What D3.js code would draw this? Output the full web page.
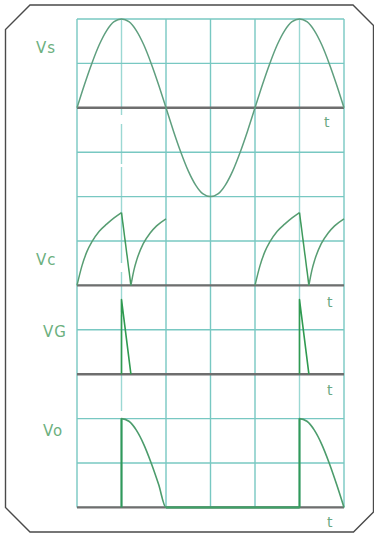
<!DOCTYPE html>
<html>
<head>
<meta charset="utf-8">
<script src="https://cdn.jsdelivr.net/npm/d3@7"></script>
<style>
  html, body { margin: 0; padding: 0; background: #fff; }
  svg { display: block; }
  .lbl { font-family: "DejaVu Sans", sans-serif; fill: #6cb07e; }
</style>
</head>
<body>
<svg id="chart" width="374" height="533"></svg>
<script>
// Phase angle (degrees) of each sample
const vsAngle = [0,15,30,45,60,75,90,105,120,135,150,165,180,195,210,225,240,255,270,
                 285,300,315,330,345,360,375,390,405,420,435,450,465,480,495,510,525,540];
// Source voltage Vs (per unit of peak)
const vsValue = [0,0.26,0.5,0.71,0.87,0.97,1,0.97,0.87,0.71,0.5,0.26,0,-0.26,-0.5,-0.71,-0.87,-0.97,-1,
                 -0.97,-0.87,-0.71,-0.5,-0.26,0,0.26,0.5,0.71,0.87,0.97,1,0.97,0.87,0.71,0.5,0.26,0];

// Capacitor voltage Vc: charge, discharge through the gate, recharge
const vcAngle1 = [0,10,20,30,45,60,75,90,109,115,121,134,148,161,180];
const vcValue1 = [0,0.22,0.38,0.49,0.61,0.69,0.76,0.82,0,0.17,0.29,0.47,0.59,0.67,0.75];
const vcAngle2 = [360,370,380,390,405,420,435,450,469,475,481,494,508,521,540];
const vcValue2 = [0,0.22,0.38,0.49,0.61,0.69,0.76,0.82,0,0.17,0.29,0.47,0.59,0.67,0.75];

// Gate pulses VG
const vgAngle1 = [90,90,109];
const vgValue1 = [0,0.84,0];
const vgAngle2 = [450,450,469];
const vgValue2 = [0,0.84,0];

// Output voltage Vo
const voAngle = [90,90,105,120,135,150,165,180,450,450,465,480,495,510,525,540];
const voValue = [0,1,0.97,0.87,0.71,0.5,0.26,0,0,1,0.97,0.87,0.71,0.5,0.26,0];

// Labels
const panelNames = ["Vs","Vc","VG","Vo"];
const axisName = "t";

const svg = d3.select("#chart");

// Frame with cut corners
const frame = [[30,5],[353,5],[373.5,25.5],[373.5,512],[353.5,532],[30,532],[5.5,507.5],[5.5,29.5]];
svg.append("path")
  .attr("d", d3.line()(frame) + "Z")
  .attr("fill", "none")
  .attr("stroke", "#4a4a4a")
  .attr("stroke-width", 1.4);

// Scales
const x = d3.scaleLinear().domain([0, 540]).range([77, 344]);
const row = d3.scaleLinear().domain([0, 11]).range([19, 507.4]);
const unit = row(2) - row(0);           // one per-unit = two grid cells

// Grid
const g = svg.append("g");
const colTicks = d3.range(0, 541, 90);
g.selectAll("line.v").data(colTicks).join("line")
  .attr("x1", d => x(d)).attr("x2", d => x(d))
  .attr("y1", row(0)).attr("y2", row(11))
  .attr("stroke", d => (d === 90 || d === 450) ? "#9bd8d3" : "#78c8c2")
  .attr("stroke-width", 1.4)
  .attr("stroke-dasharray", d => d === 90 ? "96,9,40,3" : null);
g.selectAll("line.h").data(d3.range(0, 12)).join("line")
  .attr("x1", x(0)).attr("x2", x(540))
  .attr("y1", d => row(d)).attr("y2", d => row(d))
  .attr("stroke", "#78c8c2")
  .attr("stroke-width", 1.4);

// Panel baselines (grid row of each zero line)
const baseRows = [2, 6, 8, 11];
svg.selectAll("line.axis").data(baseRows).join("line")
  .attr("x1", x(0)).attr("x2", x(540))
  .attr("y1", d => row(d)).attr("y2", d => row(d))
  .attr("stroke", "#6e6e6e")
  .attr("stroke-width", 2.4);

function yFor(r) {
  return d3.scaleLinear().domain([0, 1]).range([row(r), row(r) - unit]);
}

function draw(angles, values, r, curve, color, width) {
  const y = yFor(r);
  const pts = angles.map((a, i) => [a, values[i]]);
  svg.append("path")
    .attr("d", d3.line().x(d => x(d[0])).y(d => y(d[1])).curve(curve)(pts))
    .attr("fill", "none")
    .attr("stroke", color)
    .attr("stroke-width", width)
    .attr("stroke-linejoin", "round");
}

// Vs
draw(vsAngle, vsValue, 2, d3.curveMonotoneX, "#5f9f7f", 1.5);

// Vc: charging arcs drawn smooth, discharge drops drawn straight
function drawCharging(angles, values, r) {
  const y = yFor(r);
  const parts = [];
  let run = [[angles[0], values[0]]];
  for (let i = 1; i < angles.length; i++) {
    if (values[i] === 0 && values[i - 1] > 0) {
      parts.push({pts: run, straight: false});
      parts.push({pts: [run[run.length - 1], [angles[i], 0]], straight: true});
      run = [[angles[i], 0]];
    } else {
      run.push([angles[i], values[i]]);
    }
  }
  parts.push({pts: run, straight: false});
  parts.forEach(s => {
    svg.append("path")
      .attr("d", d3.line().x(d => x(d[0])).y(d => y(d[1]))
        .curve(s.straight ? d3.curveLinear : d3.curveMonotoneX)(s.pts))
      .attr("fill", "none")
      .attr("stroke", s.straight ? "#3f9a5c" : "#579d72")
      .attr("stroke-width", 1.5);
  });
}
drawCharging(vcAngle1, vcValue1, 6);
drawCharging(vcAngle2, vcValue2, 6);

// VG
draw(vgAngle1, vgValue1, 8, d3.curveLinear, "#2f9a50", 1.6);
draw(vgAngle2, vgValue2, 8, d3.curveLinear, "#2f9a50", 1.6);

// Vo
draw(voAngle, voValue, 11, d3.curveMonotoneX, "#4c9c6c", 1.6);
// conduction steps and the zero stretch
const yo = yFor(11);
[[90, 1], [450, 1]].forEach(([a, v]) => {
  svg.append("line")
    .attr("x1", x(a)).attr("x2", x(a))
    .attr("y1", yo(0)).attr("y2", yo(v))
    .attr("stroke", "#2f9a5a").attr("stroke-width", 1.8);
});
svg.append("line")
  .attr("x1", x(180)).attr("x2", x(450))
  .attr("y1", yo(0)).attr("y2", yo(0))
  .attr("stroke", "#3fa066").attr("stroke-width", 2);

// Panel names
const namePos = [[36, 53], [36, 265], [43, 337], [43, 436]];
svg.selectAll("text.name").data(panelNames).join("text")
  .attr("class", "lbl")
  .attr("x", (d, i) => namePos[i][0])
  .attr("y", (d, i) => namePos[i][1])
  .attr("font-size", 15)
  .attr("letter-spacing", 1)
  .text(d => d);

// Time axis labels
const tPos = [[324, 127], [327, 307], [327, 395], [327, 527]];
svg.selectAll("text.t").data(tPos).join("text")
  .attr("class", "lbl")
  .attr("x", d => d[0]).attr("y", d => d[1])
  .attr("font-size", 14)
  .style("fill", "#6aa882")
  .text(axisName);
</script>
</body>
</html>
